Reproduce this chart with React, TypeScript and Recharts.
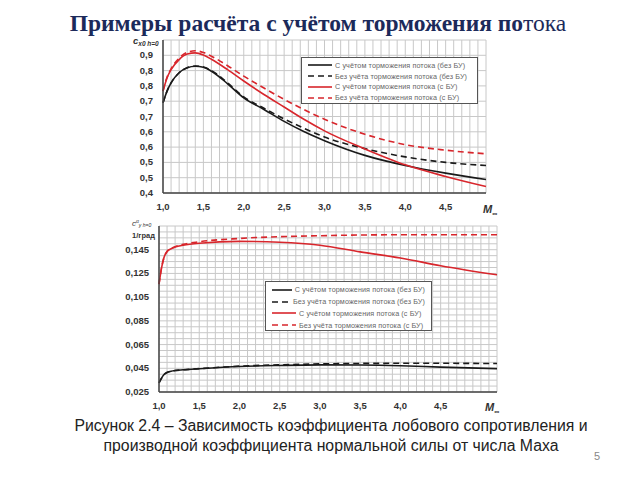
import React from 'react';
import { LineChart, Line, XAxis, YAxis, CartesianGrid, Legend } from 'recharts';

// ---------- DATA ----------
const seriesNames = [
  'С учётом торможения потока (без БУ)',
  'Без учёта торможения потока (без БУ)',
  'С учётом торможения потока (с БУ)',
  'Без учёта торможения потока (с БУ)',
];

// Upper chart: c_x0 (h=0) vs Mach
const topMach = [1.0, 1.05, 1.1, 1.2, 1.3, 1.4, 1.5, 1.6, 1.8, 2.0, 2.25, 2.5, 2.75, 3.0, 3.5, 4.0, 4.5, 5.0];
const topBlackSolid = [0.695, 0.733, 0.760, 0.793, 0.809, 0.814, 0.811, 0.798, 0.757, 0.711, 0.673, 0.634, 0.600, 0.571, 0.523, 0.490, 0.465, 0.444];
const topBlackDash = [0.695, 0.733, 0.760, 0.793, 0.809, 0.815, 0.812, 0.800, 0.760, 0.714, 0.677, 0.642, 0.611, 0.583, 0.545, 0.518, 0.500, 0.490];
const topRedSolid = [0.733, 0.776, 0.803, 0.836, 0.854, 0.858, 0.851, 0.837, 0.803, 0.766, 0.722, 0.681, 0.640, 0.603, 0.544, 0.492, 0.454, 0.421];
const topRedDash = [0.733, 0.778, 0.806, 0.841, 0.860, 0.865, 0.859, 0.847, 0.816, 0.782, 0.743, 0.706, 0.672, 0.641, 0.592, 0.558, 0.540, 0.528];

// Lower chart: c_y^alpha vs Mach
const botMach = [1.0, 1.03, 1.06, 1.1, 1.15, 1.2, 1.3, 1.5, 2.0, 2.5, 3.0, 3.5, 4.0, 4.5, 5.2];
const botBlackSolid = [0.0327, 0.0365, 0.0395, 0.0415, 0.0425, 0.0431, 0.0437, 0.0446, 0.0465, 0.0474, 0.0479, 0.0478, 0.0472, 0.0460, 0.0447];
const botBlackDash = [0.0327, 0.0365, 0.0395, 0.0415, 0.0425, 0.0431, 0.0437, 0.0447, 0.0468, 0.0479, 0.0487, 0.0491, 0.0492, 0.0492, 0.0490];
const botRedSolid = [0.1160, 0.1290, 0.1380, 0.1435, 0.1458, 0.1472, 0.1488, 0.1505, 0.1520, 0.1513, 0.1488, 0.1432, 0.1380, 0.1315, 0.1238];
const botRedDash = [0.1160, 0.1290, 0.1380, 0.1435, 0.1460, 0.1476, 0.1495, 0.1517, 0.1545, 0.1560, 0.1568, 0.1574, 0.1576, 0.1576, 0.1576];

// Tick labels
const xTickLabels = ['1,0', '1,5', '2,0', '2,5', '3,0', '3,5', '4,0', '4,5'];
const topYTicks = [0.4, 0.45, 0.5, 0.55, 0.6, 0.65, 0.7, 0.75, 0.8, 0.85, 0.9];
const topYLabels = ['0,4', '0,5', '0,5', '0,6', '0,6', '0,7', '0,7', '0,8', '0,8', '0,9', ''];
const botYLabels = ['0,025', '0,045', '0,065', '0,085', '0,105', '0,125', '0,145'];

// ---------- helpers ----------
const RED = '#d8262c';
const BLACK = '#1a1a1a';
const styles = [
  { color: BLACK, dash: undefined },
  { color: BLACK, dash: '6 4' },
  { color: RED, dash: undefined },
  { color: RED, dash: '6 4' },
];
const keys = ['s0', 's1', 's2', 's3'];

const buildRows = (xs: number[], cols: number[][]) =>
  xs.map((m, i) => ({ m, s0: cols[0][i], s1: cols[1][i], s2: cols[2][i], s3: cols[3][i] }));

const topData = buildRows(topMach, [topBlackSolid, topBlackDash, topRedSolid, topRedDash]);
const botData = buildRows(botMach, [botBlackSolid, botBlackDash, botRedSolid, botRedDash]);

const range = (a: number, b: number, step: number) => {
  const out: number[] = [];
  const n = Math.round((b - a) / step);
  for (let i = 0; i <= n; i++) out.push(Math.round((a + i * step) * 10000) / 10000);
  return out;
};
const topXTicks = range(1, 5, 0.1);
const botXTicks = range(1, 5.2, 0.1);
const botYTicks = range(0.025, 0.165, 0.005);

const tickFont = { fontFamily: 'Liberation Sans, Arial, sans-serif', fontSize: 9.5, fontWeight: 700, fill: '#333' };

const XTick = (props: any) => {
  const { x, y, payload } = props;
  const v = payload.value;
  const k = Math.round((v - 1) * 2);
  if (Math.abs((v - 1) * 2 - k) > 1e-6) return null;
  const label = xTickLabels[k];
  if (!label) return null;
  return (
    <text x={x} y={y} dy={9} textAnchor="middle" {...tickFont}>
      {label}
    </text>
  );
};

const TopYTick = (props: any) => {
  const { x, y, payload } = props;
  const idx = topYTicks.findIndex((t) => Math.abs(t - payload.value) < 1e-6);
  const label = idx >= 0 ? topYLabels[idx] : '';
  if (!label) return null;
  return (
    <text x={x} y={y} dy={3} textAnchor="end" {...tickFont}>
      {label}
    </text>
  );
};

const BotYTick = (props: any) => {
  const { x, y, payload } = props;
  const q = (payload.value - 0.025) / 0.02;
  const k = Math.round(q);
  if (Math.abs(q - k) > 1e-6) return null;
  const label = botYLabels[k];
  if (!label) return null;
  return (
    <text x={x} y={y} dy={3} textAnchor="end" {...tickFont}>
      {label}
    </text>
  );
};

const LegendBox = ({ payload, rowH }: any) => {
  const items = [...(payload || [])].sort((a: any, b: any) => keys.indexOf(a.dataKey) - keys.indexOf(b.dataKey));
  return (
    <div
      style={{
        border: '1px solid #555',
        background: '#fff',
        padding: '2px 6px',
        boxSizing: 'border-box',
        width: '100%',
        height: '100%',
      }}
    >
      {items.map((entry: any) => {
        const i = keys.indexOf(entry.dataKey);
        const st = styles[i];
        return (
          <div key={entry.dataKey} style={{ display: 'flex', alignItems: 'center', height: rowH }}>
            <svg width={24} height={6} style={{ marginRight: 3 }}>
              <line x1={0} y1={3} x2={24} y2={3} stroke={st.color} strokeWidth={1.6} strokeDasharray={st.dash} />
            </svg>
            <span
              style={{
                fontFamily: 'Liberation Sans, Arial, sans-serif',
                fontSize: 7.2,
                color: '#666',
                whiteSpace: 'nowrap',
                letterSpacing: 0.1,
              }}
            >
              {seriesNames[i]}
            </span>
          </div>
        );
      })}
    </div>
  );
};

const lineEls = () =>
  keys.map((k, i) => (
    <Line
      key={k}
      dataKey={k}
      name={seriesNames[i]}
      type="monotone"
      stroke={styles[i].color}
      strokeDasharray={styles[i].dash}
      strokeWidth={1.6}
      dot={false}
      isAnimationActive={false}
    />
  ));

const abs = (left: number, top: number, extra: React.CSSProperties = {}): React.CSSProperties => ({
  position: 'absolute',
  left,
  top,
  ...extra,
});

export default function App() {
  return (
    <div style={{ position: 'absolute', left: 0, top: 0, width: 640, height: 480, background: '#fff', overflow: 'hidden' }}>
      {/* Title */}
      <div
        style={abs(-2, 10, {
          width: 640,
          textAlign: 'center',
          fontFamily: 'Liberation Serif, "Times New Roman", serif',
          fontSize: 23.5,
          color: '#1c2a5a',
          whiteSpace: 'nowrap',
        })}
      >
        <span style={{ fontWeight: 700 }}>Примеры расчёта с учётом торможения по</span>
        <span style={{ fontWeight: 400 }}>тока</span>
      </div>

      {/* Upper chart */}
      <div style={abs(0, 0)}>
        <LineChart width={640} height={230} data={topData} margin={{ top: 40, right: 154, bottom: 7, left: 103 }}>
          <CartesianGrid stroke="#c8c8c8" strokeWidth={1} />
          <XAxis
            dataKey="m"
            type="number"
            domain={[1, 5]}
            ticks={topXTicks}
            interval={0}
            tickLine={false}
            tickSize={6}
            tickMargin={2}
            tick={<XTick />}
            axisLine={{ stroke: '#444', strokeWidth: 1.5 }}
          />
          <YAxis
            type="number"
            domain={[0.4, 0.9]}
            ticks={topYTicks}
            interval={0}
            tickLine={false}
            tickSize={8}
            tickMargin={2}
            tick={<TopYTick />}
            axisLine={{ stroke: '#444', strokeWidth: 1.5 }}
          />
          <Legend
            layout="vertical"
            align="center"
            verticalAlign="middle"
            wrapperStyle={{ left: 301, top: 57, width: 177, height: 47 }}
            content={(p: any) => <LegendBox payload={p.payload} rowH={10.8} />}
          />
          {lineEls()}
        </LineChart>
      </div>

      {/* Lower chart */}
      <div style={abs(0, 200)}>
        <LineChart width={640} height={230} data={botData} margin={{ top: 26, right: 143, bottom: 8, left: 99 }}>
          <CartesianGrid stroke="#c8c8c8" strokeWidth={1} />
          <XAxis
            dataKey="m"
            type="number"
            domain={[1, 5.2]}
            ticks={botXTicks}
            interval={0}
            tickLine={false}
            tickSize={6}
            tickMargin={2}
            tick={<XTick />}
            axisLine={{ stroke: '#444', strokeWidth: 1.5 }}
          />
          <YAxis
            type="number"
            domain={[0.025, 0.165]}
            ticks={botYTicks}
            interval={0}
            tickLine={false}
            tickSize={8}
            tickMargin={2}
            tick={<BotYTick />}
            axisLine={{ stroke: '#444', strokeWidth: 1.5 }}
          />
          <Legend
            layout="vertical"
            align="center"
            verticalAlign="middle"
            wrapperStyle={{ left: 265, top: 81, width: 167, height: 50 }}
            content={(p: any) => <LegendBox payload={p.payload} rowH={11.8} />}
          />
          {lineEls()}
        </LineChart>
      </div>

      {/* Axis titles */}
      <div style={abs(133, 35, { fontFamily: 'Liberation Sans, Arial, sans-serif', fontSize: 9.5, fontStyle: 'italic', fontWeight: 700, color: '#333', whiteSpace: 'nowrap', lineHeight: '11px' })}>
        c<span style={{ fontSize: 6.5, position: 'relative', top: 2 }}>x0 h=0</span>
      </div>
      <div style={abs(483, 203, { fontFamily: 'Liberation Sans, Arial, sans-serif', fontSize: 11, fontStyle: 'italic', fontWeight: 700, color: '#333' })}>
        M<sub style={{ fontSize: 7 }}>∞</sub>
      </div>
      <div style={abs(132, 219, { fontFamily: 'Liberation Sans, Arial, sans-serif', fontSize: 8, fontStyle: 'italic', color: '#333', whiteSpace: 'nowrap', lineHeight: '9px' })}>
        c<span style={{ fontSize: 5, position: 'relative', top: -3 }}>α</span>
        <span style={{ fontSize: 5, position: 'relative', top: 1 }}>y h=0</span>
      </div>
      <div style={abs(132, 231, { fontFamily: 'Liberation Sans, Arial, sans-serif', fontSize: 7.5, fontWeight: 700, color: '#333', whiteSpace: 'nowrap', lineHeight: '9px' })}>
        1/град
      </div>
      <div style={abs(485, 401, { fontFamily: 'Liberation Sans, Arial, sans-serif', fontSize: 11, fontStyle: 'italic', fontWeight: 700, color: '#333' })}>
        M<sub style={{ fontSize: 7 }}>∞</sub>
      </div>

      {/* Caption */}
      <div
        style={abs(11, 416, {
          width: 640,
          textAlign: 'center',
          fontFamily: 'Liberation Sans, Arial, sans-serif',
          fontSize: 15.8,
          lineHeight: '20px',
          color: '#222',
          whiteSpace: 'nowrap',
        })}
      >
        Рисунок 2.4 – Зависимость коэффициента лобового сопротивления и
        <br />
        производной коэффициента нормальной силы от числа Маха
      </div>
      <div style={abs(594, 450, { fontFamily: 'Liberation Sans, Arial, sans-serif', fontSize: 11, color: '#888' })}>5</div>
    </div>
  );
}
